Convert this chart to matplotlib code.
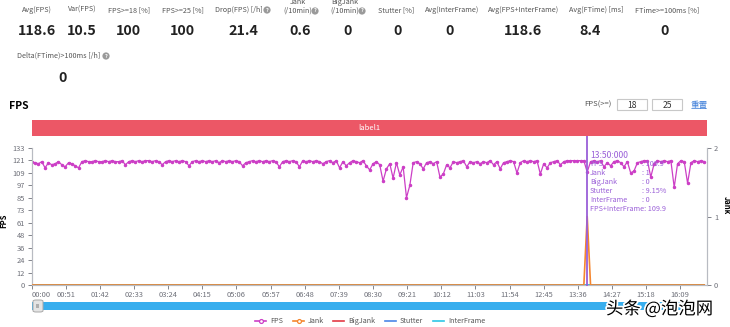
import numpy as np
import matplotlib.pyplot as plt
import matplotlib.patheffects as pe
from matplotlib.patches import Rectangle, FancyBboxPatch
from matplotlib.lines import Line2D

plt.rcParams['font.family'] = ['Noto Sans CJK SC', 'DejaVu Sans']

W, H = 730, 327

# summary figures shown above the chart
stat_labels = ['Avg(FPS)', 'Var(FPS)', 'FPS>=18 [%]', 'FPS>=25 [%]', 'Drop(FPS) [/h]',
               'Jank\n(/10min)', 'BigJank\n(/10min)', 'Stutter [%]', 'Avg(InterFrame)',
               'Avg(FPS+InterFrame)', 'Avg(FTime) [ms]', 'FTime>=100ms [%]']
stat_values = ['118.6', '10.5', '100', '100', '21.4', '0.6', '0', '0', '0', '118.6', '8.4', '0']
delta_label = 'Delta(FTime)>100ms [/h]'
delta_value = '0'

# FPS sampled every 5 s (one row per minute)
fps = [
    120, 119, 118, 120, 114, 119, 117, 118, 120, 117, 115, 119,
    118, 116, 114, 120, 121, 120, 120, 121, 120, 120, 121, 120,
    121, 120, 120, 121, 117, 120, 121, 120, 121, 120, 121, 121,
    120, 121, 120, 117, 120, 121, 120, 121, 120, 121, 120, 116,
    120, 121, 120, 121, 120, 121, 120, 121, 119, 121, 120, 121,
    120, 121, 120, 116, 119, 120, 121, 120, 121, 120, 121, 120,
    121, 120, 115, 120, 121, 120, 121, 120, 115, 121, 120, 121,
    120, 121, 120, 118, 120, 121, 119, 121, 114, 120, 116, 119,
    121, 120, 119, 121, 116, 112, 118, 120, 117, 101, 113, 118,
    104, 119, 107, 115, 85, 97, 119, 120, 118, 113, 119, 120,
    118, 120, 105, 108, 117, 114, 120, 119, 120, 121, 115, 120,
    119, 120, 118, 120, 119, 121, 117, 120, 113, 119, 120, 121,
    120, 109, 119, 121, 120, 121, 120, 121, 108, 118, 114, 119,
    120, 121, 117, 120, 121, 121, 121, 121, 121, 121, 109.9, 120,
    121, 120, 121, 115, 119, 116, 120, 121, 119, 115, 120, 109,
    111, 119, 120, 121, 121, 105, 118, 121, 120, 121, 120, 121,
    95, 118, 121, 120, 99, 119, 121, 120, 121, 120,
]
sample_step = 5
t = np.arange(len(fps)) * sample_step

cursor_time = 830
cursor_idx = cursor_time // sample_step
jank = np.zeros(len(fps))
jank[cursor_idx] = 1
bigjank = np.zeros(len(fps))
stutter = np.zeros(len(fps))
interframe = np.zeros(len(fps))
stutter_pct = 9.15

fps_ticks = [0, 12, 24, 36, 48, 61, 73, 85, 97, 109, 121, 133]
fps_max = 133.3
time_ticks = np.arange(0, 970, 51)
time_labels = ['%02d:%02d' % (s // 60, s % 60) for s in time_ticks]

series_names = ['FPS', 'Jank', 'BigJank', 'Stutter', 'InterFrame']
series_colors = ['#CC3FC6', '#F5862E', '#E33B45', '#4A86E8', '#2EC7E6']


def fx(x):
    return x / W


def fy(y):
    return 1 - y / H


def help_icon(x, y):
    fig.text(fx(x), fy(y), '?', ha='center', va='center', fontsize=4, color='white',
             fontweight='bold', bbox=dict(boxstyle='circle,pad=0.2', fc='#9A9A9A', ec='none'))


fig = plt.figure(figsize=(7.3, 3.27), dpi=100)

# header statistics
label_x = [37, 82, 129, 183, 239, 298, 345, 396, 452, 524, 596, 667]
value_x = [37, 82, 128, 182, 243, 300, 348, 398, 450, 523, 590, 665]
lab_fs = 5.2
for lab, val, hx, vx in zip(stat_labels, stat_values, label_x, value_x):
    if '\n' in lab:
        top, bottom = lab.split('\n')
        fig.text(fx(hx), fy(2.5), top, ha='center', va='center', fontsize=lab_fs, color='#555555')
        fig.text(fx(hx), fy(11), bottom, ha='center', va='center', fontsize=lab_fs, color='#555555')
    else:
        fig.text(fx(hx), fy(10), lab, ha='center', va='center', fontsize=lab_fs, color='#555555')
    fig.text(fx(vx), fy(31), val, ha='center', va='center', fontsize=10.3,
             fontweight='bold', color='#222222')
for ix, iy in [(267, 10), (315, 11), (362, 11)]:
    help_icon(ix, iy)
fig.text(fx(59), fy(56), delta_label, ha='center', va='center', fontsize=lab_fs, color='#555555')
help_icon(106, 56)
fig.text(fx(63), fy(78), delta_value, ha='center', va='center', fontsize=10.3,
         fontweight='bold', color='#222222')

# chart header
fig.text(fx(9), fy(106), 'FPS', ha='left', va='center', fontsize=7.5, fontweight='bold')
fig.text(fx(612), fy(105), 'FPS(>=)', ha='right', va='center', fontsize=5.5, color='#555555')
for x0, x1, txt in [(617, 647, '18'), (652, 682, '25')]:
    fig.patches.append(Rectangle((fx(x0), fy(110)), fx(x1) - fx(x0), fy(99) - fy(110),
                                 transform=fig.transFigure, fc='white', ec='#C8C8C8', lw=0.8))
    fig.text(fx((x0 + x1) / 2), fy(105), txt, ha='center', va='center', fontsize=6.2, color='#333333')
fig.text(fx(699), fy(105), '重置', ha='center', va='center', fontsize=6.2, color='#3C7DD9')

# label band
fig.patches.append(Rectangle((fx(31.7), fy(136)), fx(707) - fx(31.7), fy(120) - fy(136),
                             transform=fig.transFigure, fc='#EC5766', ec='none'))
fig.text(fx(369), fy(128), 'label1', ha='center', va='center', fontsize=5.5, color='white')

# main axes
ax = fig.add_axes([fx(31.7), fy(285), fx(707) - fx(31.7), fy(148) - fy(285)])
ax2 = ax.twinx()

ax.plot(t, fps, color=series_colors[0], lw=0.9, marker='o', ms=1.5, zorder=3)
for vals, col in zip([bigjank, stutter, interframe], series_colors[2:]):
    ax2.plot(t, vals, color=col, lw=1.2, zorder=2)
ax2.plot(t, jank, color=series_colors[1], lw=1.2, zorder=3)

ax.set_xlim(0, 1009)
ax.set_ylim(0, fps_max)
ax2.set_ylim(0, 2)
ax.set_yticks(np.linspace(0, fps_max, len(fps_ticks)))
ax.set_yticklabels([str(v) for v in fps_ticks])
ax2.set_yticks([0, 1, 2])
ax.set_xticks(time_ticks)
ax.set_xticklabels(time_labels)
ax.get_xticklabels()[0].set_horizontalalignment('left')

axis_col = '#6E7079'
for a in (ax, ax2):
    a.tick_params(axis='both', labelsize=5.4, colors=axis_col, length=3, width=0.6, pad=2)
    a.spines['top'].set_visible(False)
    for side in ('left', 'right', 'bottom'):
        a.spines[side].set_color('#B8BBC2')
        a.spines[side].set_linewidth(0.8)
ax.tick_params(axis='x', pad=1.5)

ax.set_ylabel('FPS', fontsize=5.5, fontweight='bold')
ax.yaxis.set_label_coords(-0.035, 0.47)
ax2.set_ylabel('Jank', fontsize=5.5, fontweight='bold', rotation=270, va='center')
ax2.yaxis.set_label_coords(1.028, 0.58)

# hover cursor and tooltip
tip_col = '#9A5FD8'
ax2.axvline(cursor_time, ymin=0, ymax=1.088, color=tip_col, lw=1.3, clip_on=False, zorder=5)
tip_rows = [('FPS', ': %g' % fps[cursor_idx]),
            ('Jank', ': %d' % jank[cursor_idx]),
            ('BigJank', ': %d' % bigjank[cursor_idx]),
            ('Stutter', ': %.2f%%' % stutter_pct),
            ('InterFrame', ': %d' % interframe[cursor_idx])]
tip_fs = 5.2
fig.text(fx(590), fy(155), '%02d:%02d:000' % (cursor_time // 60, cursor_time % 60),
         ha='left', va='center', fontsize=6.2, color=tip_col)
for i, (name, val) in enumerate(tip_rows):
    yy = 164 + 9 * i
    fig.text(fx(590), fy(yy), name, ha='left', va='center', fontsize=tip_fs, color=tip_col)
    fig.text(fx(642), fy(yy), val, ha='left', va='center', fontsize=tip_fs, color=tip_col)
fig.text(fx(590), fy(209), 'FPS+InterFrame: %g' % (fps[cursor_idx] + interframe[cursor_idx]),
         ha='left', va='center', fontsize=tip_fs, color=tip_col)

# zoom slider
fig.patches.append(Rectangle((fx(31.7), fy(310)), fx(707) - fx(31.7), fy(302) - fy(310),
                             transform=fig.transFigure, fc='#38AEEE', ec='none'))
fig.patches.append(FancyBboxPatch((fx(33), fy(312)), fx(43) - fx(33), fy(300) - fy(312),
                                  boxstyle='round,pad=0,rounding_size=0.004',
                                  transform=fig.transFigure, fc='#E4E4E4', ec='#A8A8A8', lw=0.7))
fig.text(fx(38), fy(306), 'III', ha='center', va='center', fontsize=3.8, color='#777777')

# legend
leg_x = [255, 293, 333, 385, 433]
for name, col, lx in zip(series_names, series_colors, leg_x):
    fig.lines.append(Line2D([fx(lx), fx(lx + 11)], [fy(321), fy(321)], transform=fig.transFigure,
                            color=col, lw=1.2))
    if name in ('FPS', 'Jank'):
        fig.lines.append(Line2D([fx(lx + 5.5)], [fy(321)], transform=fig.transFigure,
                                color=col, marker='o', ms=2.8, mfc='white', mew=0.9))
    fig.text(fx(lx + 15), fy(321), name, ha='left', va='center', fontsize=5.2, color='#555555')

# watermark
fig.text(fx(606), fy(309), '头条 @泡泡网', ha='left', va='center', fontsize=12.5, color='black',
         path_effects=[pe.withStroke(linewidth=2.5, foreground='white')])

fig.savefig('out.png', dpi=100)
